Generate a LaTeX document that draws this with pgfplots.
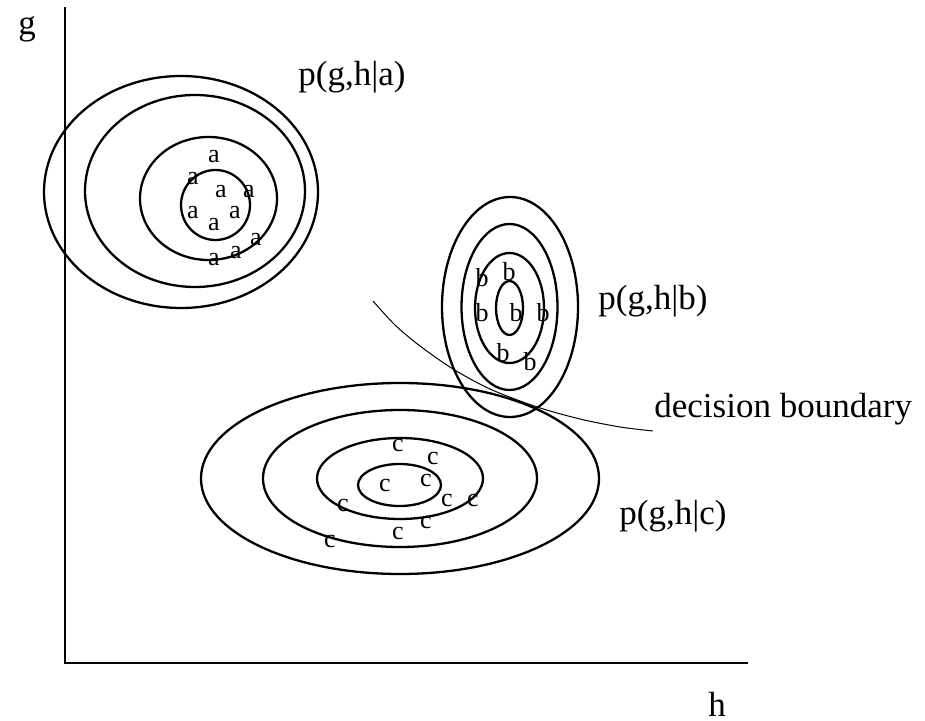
\documentclass[border=0pt]{standalone}
\usepackage{fontspec}
\setmainfont{Liberation Serif}
\usepackage{pgfplots}
\pgfplotsset{compat=1.18}
\usepackage{pgfplotstable}
\pgfplotstableread{
x y lab
214 157 a
193 179 a
221 192 a
249 192 a
193 213 a
235 213 a
214 225 a
256 240 a
236 253 a
214 260 a
482 278 b
509 272 b
482 313 b
516 313 b
543 313 b
503 353 b
530 362 b
398 445 c
433 458 c
385 485 c
426 480 c
447 500 c
473 500 c
343 505 c
426 522 c
398 533 c
330 541 c
}\letters
\begin{document}
\begin{tikzpicture}
\begin{axis}[
  scale only axis, width=462.5pt, height=360.5pt,
  xmin=0, xmax=925, ymin=0, ymax=721, y dir=reverse,
  axis line style={draw=none}, ticks=none, clip=false,
  every node near coord/.append style={font=\fontsize{13}{13}\selectfont, inner sep=0pt, anchor=center},
]
\path (rel axis cs:0,0) rectangle (rel axis cs:1,1);
% axes
\addplot[line width=1.15pt, mark=none, line join=miter] coordinates {(65,7) (65,663) (748,663)};
% ellipses a
\draw[line width=1.15pt] (axis cs:181,192) ellipse [x radius=137, y radius=116];
\draw[line width=1.15pt] (axis cs:195,191) ellipse [x radius=110, y radius=96];
\draw[line width=1.15pt] (axis cs:208.5,198.5) ellipse [x radius=68.5, y radius=61.5];
\draw[line width=1.15pt] (axis cs:215.5,205) ellipse [x radius=34.5, y radius=35];
% ellipses b
\draw[line width=1.15pt] (axis cs:510,307) ellipse [x radius=68, y radius=110];
\draw[line width=1.15pt] (axis cs:509.5,307) ellipse [x radius=48, y radius=83];
\draw[line width=1.15pt] (axis cs:509.5,308) ellipse [x radius=34.5, y radius=55];
\draw[line width=1.15pt] (axis cs:509.5,308) ellipse [x radius=13.5, y radius=27];
% ellipses c
\draw[line width=1.15pt] (axis cs:400,478.5) ellipse [x radius=199, y radius=95.5];
\draw[line width=1.15pt] (axis cs:400,478.5) ellipse [x radius=137, y radius=68.5];
\draw[line width=1.15pt] (axis cs:400,478.5) ellipse [x radius=83, y radius=40.5];
\draw[line width=1.15pt] (axis cs:399.5,485) ellipse [x radius=41.5, y radius=21];
% decision boundary
\addplot[smooth, line width=0.5pt, mark=none] coordinates {(373,301) (395,325) (420,346) (453,369) (490,389) (537,407) (580,419) (620,427) (653,431)};
% letters
\addplot[only marks, mark=none, nodes near coords, point meta=explicit symbolic] table[x=x, y=y, meta=lab] {\letters};
% labels
\begin{scope}[every node/.style={font=\fontsize{17.5}{17.5}\selectfont, inner sep=0pt}]
\node[anchor=base west] at (axis cs:298,86) {p(g,h|a)};
\node[anchor=base west] at (axis cs:598,310) {p(g,h|b)};
\node[anchor=base west] at (axis cs:654,417) {decision boundary};
\node[anchor=base west] at (axis cs:619,524) {p(g,h|c)};
\node[anchor=base west] at (axis cs:18,35) {g};
\node[anchor=base west] at (axis cs:708,716) {h};
\end{scope}
\end{axis}
\end{tikzpicture}
\end{document}
